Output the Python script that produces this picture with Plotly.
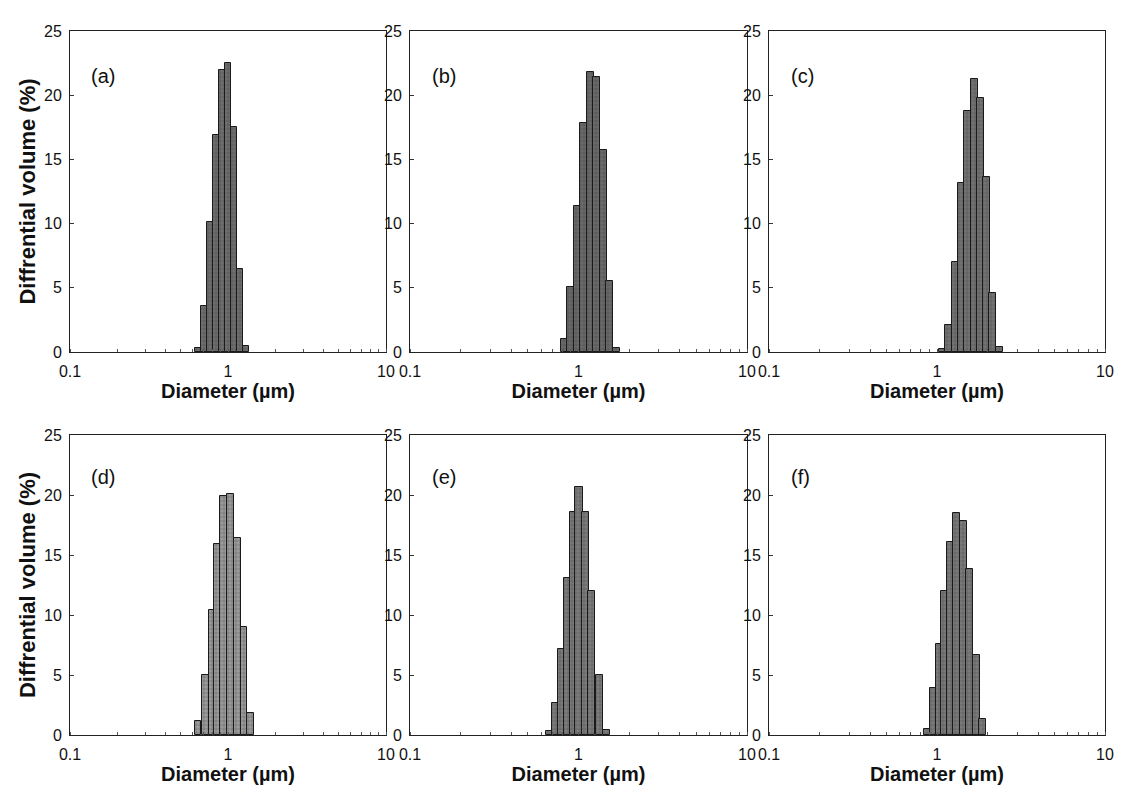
import plotly.graph_objects as go

# ---- data ----
d_a = [0.648, 0.707, 0.771, 0.841, 0.917, 1.000, 1.091, 1.189, 1.297]
v_a = [0.3, 3.6, 10.1, 16.9, 22.0, 22.5, 17.5, 6.5, 0.5]

d_b = [0.822, 0.898, 0.982, 1.073, 1.173, 1.282, 1.401, 1.532, 1.674]
v_b = [1.0, 5.1, 11.4, 17.8, 21.8, 21.4, 15.7, 5.5, 0.3]

d_c = [1.080, 1.177, 1.283, 1.399, 1.525, 1.662, 1.811, 1.974, 2.152, 2.346]
v_c = [0.2, 2.1, 7.0, 13.2, 18.8, 21.3, 19.8, 13.6, 4.6, 0.4]

d_d = [0.646, 0.721, 0.792, 0.859, 0.938, 1.040, 1.150, 1.260, 1.390]
v_d = [1.2, 5.0, 10.4, 15.9, 19.9, 20.1, 16.4, 9.0, 1.8]

d_e = [0.675, 0.732, 0.794, 0.861, 0.929, 1.007, 1.100, 1.200, 1.330, 1.460]
v_e = [0.3, 2.7, 7.2, 13.1, 18.6, 20.7, 18.6, 12.0, 5.0, 0.4]

d_f = [0.873, 0.953, 1.035, 1.115, 1.210, 1.300, 1.430, 1.560, 1.710, 1.870]
v_f = [0.5, 3.9, 7.6, 12.0, 16.1, 18.5, 17.8, 13.8, 6.7, 1.3]

labels = ["(a)", "(b)", "(c)", "(d)", "(e)", "(f)"]
y_ticks = [0, 5, 10, 15, 20, 25]
x_tickvals = [0.1, 1, 10]
x_ticktext = ["0.1", "1", "10"]

series = [(d_a, v_a), (d_b, v_b), (d_c, v_c), (d_d, v_d), (d_e, v_e), (d_f, v_f)]

# ---- layout geometry (pixels) ----
W, H = 1126, 787
cols = [(62, 378), (402, 739), (761, 1097)]
rows = [(23, 344), (427, 727)]
HALF_LOG_W = 0.021  # half bar width in decades

fill_colors = ["#6f6f6f", "#6a6a6a", "#737373", "#9b9b9b", "#7c7c7c", "#7a7a7a"]

fig = go.Figure()
FONT = "Liberation Sans, Arial, sans-serif"

for i, (d, v) in enumerate(series):
    r, c = divmod(i, 3)
    n = "" if i == 0 else str(i + 1)
    lo = [x * 10 ** (-HALF_LOG_W) for x in d]
    hi = [x * 10 ** (HALF_LOG_W) for x in d]
    fig.add_trace(go.Bar(
        x=d, y=v,
        width=[h - l for h, l in zip(hi, lo)],
        offset=[l - x for l, x in zip(lo, d)],
        marker=dict(color=fill_colors[i],
                    line=dict(color="#1a1a1a", width=1),
                    pattern=dict(shape="+", fgcolor="#2e2e2e", size=4, solidity=0.25)),
        xaxis="x" + n, yaxis="y" + n, showlegend=False,
    ))
    x0, x1 = cols[c]
    y0, y1 = rows[r]
    xa = dict(
        type="log", range=[-1, 1], domain=[x0 / W, x1 / W], anchor="y" + n,
        automargin=False,
        tickvals=x_tickvals, ticktext=x_ticktext, ticks="", showgrid=False,
        ticklabelstandoff=5,
        zeroline=False, showline=True, linecolor="#222", linewidth=1, mirror=True,
        tickfont=dict(family=FONT, size=16, color="#111"),
        title=dict(text="<b>Diameter (\u00b5m)</b>", standoff=0,
                   font=dict(family=FONT, size=20, color="#111")),
        minor=dict(ticks="inside", ticklen=3, tickcolor="#555", dtick="D1", showgrid=False),
    )
    ya = dict(
        range=[0, 25], domain=[1 - y1 / H, 1 - y0 / H], anchor="x" + n,
        automargin=False,
        tickvals=y_ticks, ticks="inside", ticklen=4, tickcolor="#333",
        ticklabelstandoff=4,
        showgrid=False, zeroline=False, showline=True, linecolor="#222",
        linewidth=1, mirror=True,
        tickfont=dict(family=FONT, size=16, color="#111"),
    )
    if c == 0:
        ya["title"] = dict(text="<b>Diffrential volume (%)</b>", standoff=2,
                           font=dict(family=FONT, size=22, color="#111"))
    fig.layout["xaxis" + n] = xa
    fig.layout["yaxis" + n] = ya
    fig.add_annotation(text=labels[i], xref="x" + n + " domain", yref="y" + n + " domain",
                       x=0.06, y=0.86, xanchor="left", yanchor="middle", showarrow=False,
                       font=dict(family=FONT, size=20, color="#111"))

fig.update_layout(
    width=W, height=H, margin=dict(l=0, r=0, t=0, b=0, autoexpand=False),
    plot_bgcolor="white", paper_bgcolor="white", bargap=0,
)

fig.write_html("out.html")
